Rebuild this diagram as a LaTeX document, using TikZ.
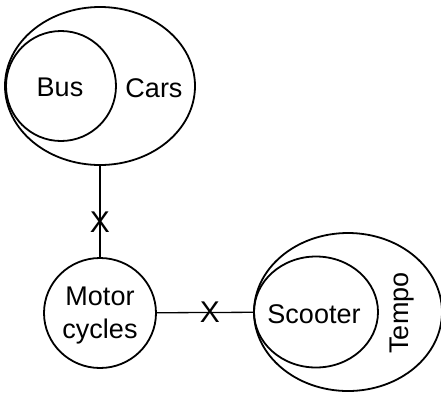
\documentclass[tikz,border=0pt]{standalone}
\usepackage{fontspec}
\setmainfont{Liberation Sans}
\usetikzlibrary{shapes.geometric}

\begin{document}
\begin{tikzpicture}[x=1pt,y=-1pt,
    set/.style={draw,ellipse,line width=1.8pt,inner sep=0pt},
    lbl/.style={font=\fontsize{27}{33}\selectfont,align=center},
    cross/.style={font=\fontsize{30}{33}\selectfont,inner sep=0pt}]

    \useasboundingbox (0,0) rectangle (441,397);
    \node[set,minimum width=190pt,minimum height=158pt] (cars) at (100,86) {};
    \node[set,minimum width=110pt,minimum height=110pt] (bus) at (61,86) {};
    \node[set,minimum width=112pt,minimum height=110pt] (motor) at (100,313) {};
    \node[set,minimum width=188pt,minimum height=158pt] (tempo) at (348,312) {};
    \node[set,minimum width=124pt,minimum height=111pt] (scooter) at (316,312) {};
    \node[lbl] (buslbl) at (60,87) {Bus};
    \node[lbl] (carslbl) at (154,88) {Cars};
    \node[lbl] (motorlbl) at (100,316) {Motor\\cycles};
    \node[lbl] (scooterlbl) at (314,314) {Scooter};
    \node[lbl,rotate=90] (tempolbl) at (402,313) {Tempo};
    \draw[line width=1.3pt] (cars) -- node[cross,pos=0.62] {X} (motor);
    \draw[line width=1.3pt] (motor) -- node[cross,pos=0.55] {X} (scooter);
        \end{tikzpicture}
\end{document}
